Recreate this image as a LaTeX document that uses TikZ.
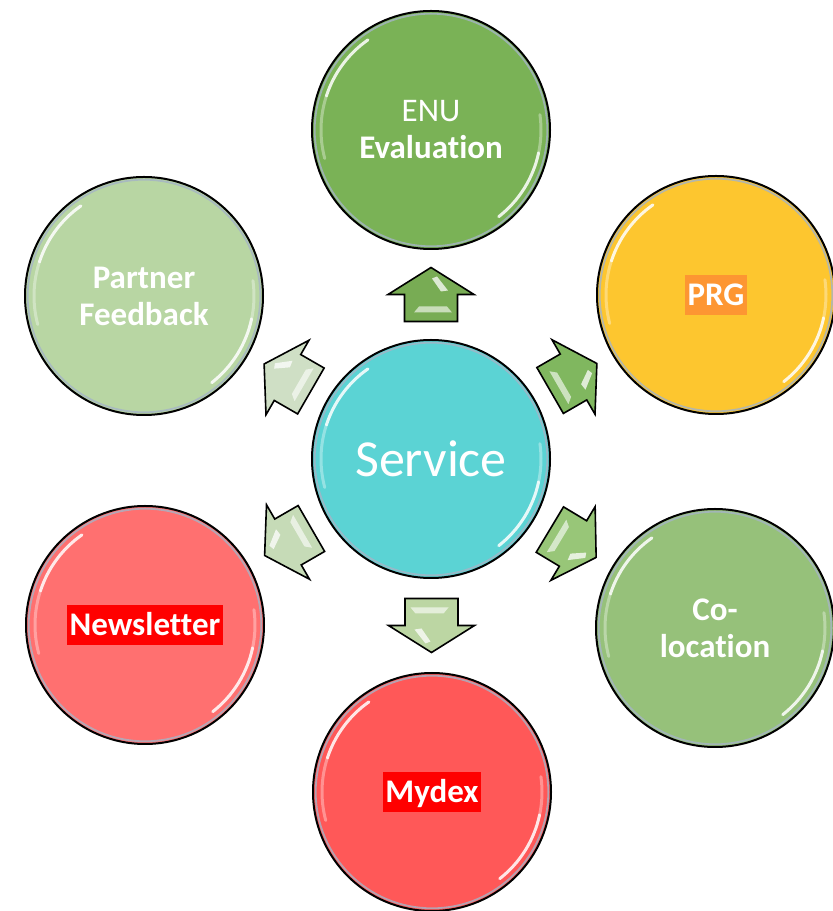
\documentclass[tikz,border=0pt]{standalone}
\usepackage{fontspec}
\setmainfont{Carlito}[Ligatures=NoCommon]
\usetikzlibrary{calc}

\definecolor{serviceC}{RGB}{91,211,212}
\definecolor{enuC}{RGB}{122,178,86}
\definecolor{prgC}{RGB}{253,198,47}
\definecolor{prgTag}{RGB}{253,150,50}
\definecolor{coC}{RGB}{150,193,122}
\definecolor{partnerC}{RGB}{184,214,163}
\definecolor{newsC}{RGB}{255,112,112}
\definecolor{mydexC}{RGB}{255,88,88}
\definecolor{tagRed}{RGB}{255,0,0}
\definecolor{rimC}{RGB}{165,180,198}
\definecolor{arrA}{RGB}{120,172,84}
\definecolor{arrB}{RGB}{128,183,95}
\definecolor{arrC}{RGB}{152,198,120}
\definecolor{arrD}{RGB}{188,214,163}
\definecolor{arrE}{RGB}{198,219,183}
\definecolor{arrF}{RGB}{207,223,197}

% colour tag behind a label
\newcommand{\labeltag}[2]{{\setlength{\fboxsep}{0pt}\colorbox{#1}{\rule[-9pt]{0pt}{40pt}\hspace{2.5pt}#2\hspace{2.5pt}}}}

\tikzset{
  bubble/.style={circle, minimum size=238pt, inner sep=0pt, fill=#1,
    text=white, align=center,
    font=\fontsize{33}{37}\selectfont\bfseries},
  blockarrow/.style={draw=black, line width=1.6pt, fill=#1},
  gloss/.style={white, line width=3pt, line cap=round},
}

\begin{document}
\begin{tikzpicture}[x=1pt,y=1pt]
  \useasboundingbox[fill=white] (0,0) rectangle (833,911);

  % hub and satellites
  \node[bubble=serviceC, font=\fontsize{52}{60}\selectfont] (svc) at (431,452) {Service};
  \node[bubble=enuC] (enu) at (431,781) {{\mdseries ENU}\\Evaluation};
  \node[bubble=prgC] (prg) at (716,616) {\labeltag{prgTag}{PRG}};
  \node[bubble=coC] (coloc) at (715,283) {Co-\\location};
  \node[bubble=mydexC] (mydex) at (432,119) {\labeltag{tagRed}{Mydex}};
  \node[bubble=newsC] (news) at (145,286) {\labeltag{tagRed}{Newsletter}};
  \node[bubble=partnerC] (partner) at (144,615) {Partner\\Feedback};

  % outline, bevel rim and glossy reflections on every circle
  \foreach \b in {svc,enu,prg,coloc,mydex,news,partner}{
    \begin{scope}[shift={(\b.center)}]
      \draw[rimC, line width=1.8pt, opacity=.8] (0,0) circle[radius=116.3pt];
      \draw[black, line width=2pt] (0,0) circle[radius=119pt];
      \draw[gloss, opacity=.85] (125:110pt) arc[start angle=125, end angle=162, radius=110pt];
      \draw[gloss, opacity=.35] (162:110pt) arc[start angle=162, end angle=195, radius=110pt];
      \draw[gloss, opacity=.85] (-52:110pt) arc[start angle=-52, end angle=-12, radius=110pt];
      \draw[gloss, opacity=.35] (-12:110pt) arc[start angle=-12, end angle=8, radius=110pt];
    \end{scope}
  }

  % block arrows from the hub towards each satellite
  \foreach \tgt/\ang/\col in {enu/90/arrA, prg/30/arrB, coloc/-31/arrC,
                              mydex/-90/arrD, news/-150/arrE, partner/150/arrF}{
    \begin{scope}[shift={($(svc)!0.5!(\tgt)$)}, rotate=\ang]
      \draw[blockarrow=\col] (-27,-26.5) -- (0,-26.5) -- (0,-43) -- (27,0)
        -- (0,43) -- (0,26.5) -- (-27,26.5) -- cycle;
      \fill[white, opacity=.75] (16,-1) -- (18,-6) -- (4,-17) -- (3,-10) -- cycle;
      \fill[white, opacity=.6] (-12,12) -- (-12,-16) -- (-18,-21) -- (-18,17) -- cycle;
    \end{scope}
  }
\end{tikzpicture}
\end{document}
